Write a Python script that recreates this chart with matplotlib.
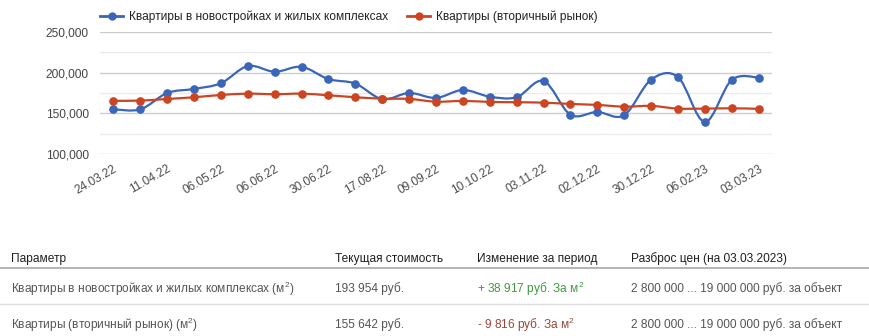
import matplotlib
matplotlib.use("Agg")
import matplotlib.pyplot as plt
import numpy as np
from matplotlib.path import Path
from matplotlib.patches import PathPatch
from matplotlib.lines import Line2D
from matplotlib.ticker import MultipleLocator, FuncFormatter

plt.rcParams['font.family'] = ['Liberation Sans', 'DejaVu Sans']
plt.rcParams['mathtext.fontset'] = 'custom'
plt.rcParams['mathtext.rm'] = 'Liberation Sans'
plt.rcParams['mathtext.it'] = 'Liberation Sans'

# data (price per m2, rub.)
dates = ['24.03.22', '', '11.04.22', '', '06.05.22', '', '06.06.22', '', '30.06.22', '',
         '17.08.22', '', '09.09.22', '', '10.10.22', '', '03.11.22', '', '02.12.22', '',
         '30.12.22', '', '06.02.23', '', '03.03.23']
new_flats = [155037, 155000, 175000, 180000, 187000, 208000, 201000, 207000, 192000, 186500,
             167500, 175000, 169000, 178700, 170500, 169800, 189700, 148500, 151800, 147800,
             191300, 194600, 139600, 191000, 193954]
old_flats = [165458, 165700, 167700, 169800, 172600, 174200, 173500, 174200, 172200, 169800,
             168100, 167700, 164400, 165300, 164100, 163700, 163200, 161600, 160400, 158300,
             159200, 155900, 155900, 156300, 155642]
series_names = ['Квартиры в новостройках и жилых комплексах', 'Квартиры (вторичный рынок)']
colors = ['#3a65b8', '#cc4522']

table_header = ['Параметр', 'Текущая стоимость', 'Изменение за период', 'Разброс цен (на 03.03.2023)']
table_rows = [
    ['Квартиры в новостройках и жилых комплексах (м$^2$)', '193 954 руб.', '+ 38 917 руб. За м$^2$',
     '2 800 000 ... 19 000 000 руб. за объект'],
    ['Квартиры (вторичный рынок) (м$^2$)', '155 642 руб.', '- 9 816 руб. За м$^2$',
     '2 800 000 ... 19 000 000 руб. за объект'],
]
change_colors = ['#3f983f', '#9c4636']


def smooth_path(x, y, k=1.0 / 6):
    # cubic bezier through the points (like google charts curveType: function)
    pts = np.column_stack([x, y]).astype(float)
    n = len(pts)
    verts = [pts[0]]
    codes = [Path.MOVETO]
    for i in range(n - 1):
        p0 = pts[max(i - 1, 0)]
        p1 = pts[i]
        p2 = pts[i + 1]
        p3 = pts[min(i + 2, n - 1)]
        c1 = p1 + (p2 - p0) * k
        c2 = p2 - (p3 - p1) * k
        verts += [c1, c2, p2]
        codes += [Path.CURVE4] * 3
    return Path(verts, codes)


W, H = 869, 336
fig = plt.figure(figsize=(W / 100, H / 100), dpi=100)
ax = fig.add_axes([100 / W, (H - 154.3) / H, 672 / W, 122.6 / H])

x = np.arange(len(dates))
for vals, c in zip([new_flats, old_flats], colors):
    ax.add_patch(PathPatch(smooth_path(x, vals), fill=False, edgecolor=c, lw=1.6, zorder=3))
    ax.plot(x, vals, linestyle='none', marker='o', markersize=5.2, color=c, zorder=4)

ax.set_xlim(-0.5, len(dates) - 0.5)
ax.set_ylim(100000, 250000)
ax.yaxis.set_major_locator(MultipleLocator(50000))
ax.yaxis.set_minor_locator(MultipleLocator(25000))
ax.yaxis.set_major_formatter(FuncFormatter(lambda v, p: f'{int(v):,}'))
ax.grid(axis='y', which='major', color='#cccccc', lw=1)
ax.grid(axis='y', which='minor', color='#ebebeb', lw=1)
ax.set_axisbelow(True)
for s in ax.spines.values():
    s.set_visible(False)
ax.tick_params(axis='y', which='both', length=0, labelsize=8.6, labelcolor='#444444', pad=8)

ax.set_xticks(x[::2])
ax.set_xticklabels(dates[::2], rotation=30, ha='right', rotation_mode='anchor',
                   fontsize=8.6, color='#4a4a4a')
ax.tick_params(axis='x', length=0, pad=6)

handles = [Line2D([], [], color=c, lw=2, marker='o', markersize=5) for c in colors]
ax.legend(handles, series_names, ncol=2, frameon=False, fontsize=8.6, loc='lower left',
          bbox_to_anchor=(-0.012, 1.0), handlelength=1.9, handletextpad=0.5,
          columnspacing=1.6, borderaxespad=0.3, labelcolor='#222222')

# table below the chart
col_x = [11, 335, 477, 631]
row_y = [288.5, 324.5]
for cx, t in zip(col_x, table_header):
    fig.text(cx / W, 1 - 259 / H, t, fontsize=8.6, color='#1e1e1e',
             va='center', ha='left')
for r, row in enumerate(table_rows):
    for j, (cx, t) in enumerate(zip(col_x, row)):
        col = change_colors[r] if j == 2 else '#555555'
        fig.text(cx / W, 1 - row_y[r] / H, t, fontsize=8.6, color=col, va='center', ha='left')
fig.add_artist(Line2D([0, 1], [1 - 267.7 / H] * 2, color='#a8a8a8', lw=1.2))
fig.add_artist(Line2D([0, 1], [1 - 304 / H] * 2, color='#dddddd', lw=1))

fig.savefig('out.png', dpi=100, facecolor='white')
